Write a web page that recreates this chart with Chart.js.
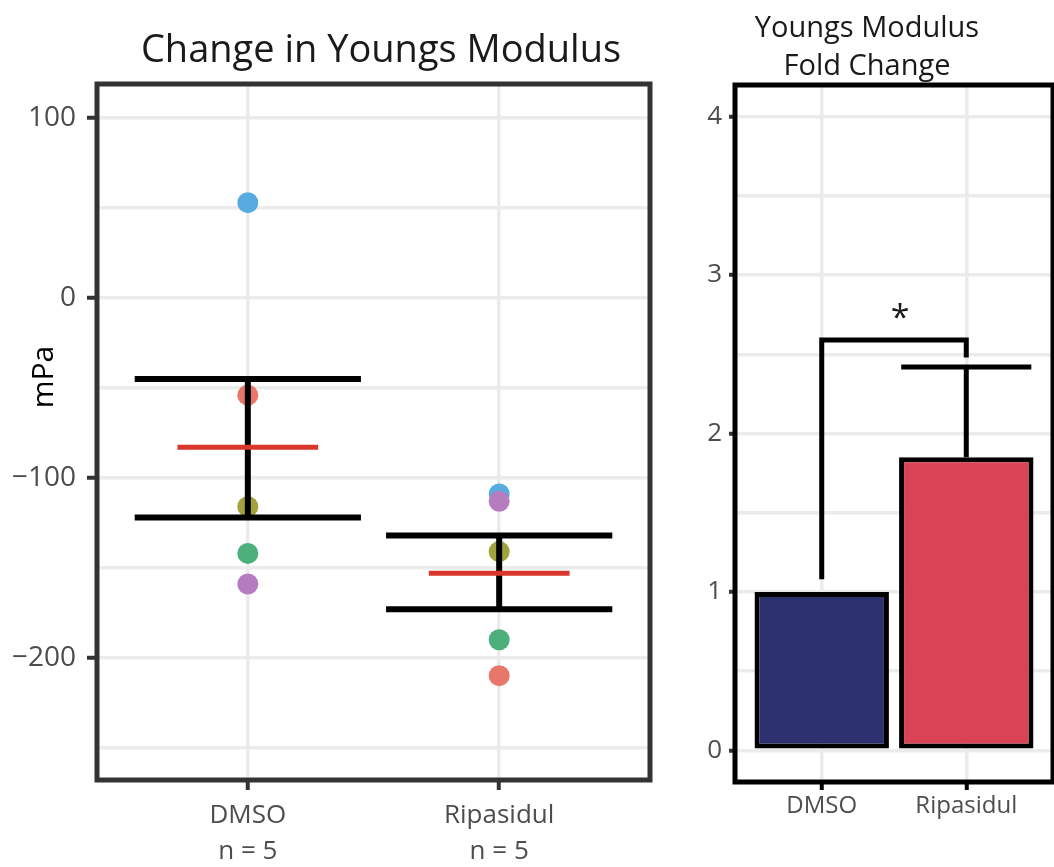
<!DOCTYPE html>
<html>
<head>
<meta charset="utf-8">
<script src="https://cdn.jsdelivr.net/npm/chart.js@4.4.1/dist/chart.umd.min.js"></script>
<style>
  html, body { margin: 0; padding: 0; background: #fff; }
  #wrap { position: relative; width: 1054px; height: 867px; overflow: hidden; }
  canvas { position: absolute; top: 0; }
</style>
</head>
<body>
<div id="wrap">
  <canvas id="change" width="690" height="867" style="left:0"></canvas>
  <canvas id="fold" width="364" height="867" style="left:690px"></canvas>
</div>
<script>
// values
const groups = ["DMSO", "Ripasidul"];
const groupN = ["n = 5", "n = 5"];
// one colour per replicate (same order in both groups)
const sampleColors = ["#e8776b", "#a3a23d", "#4daf7c", "#58abe0", "#b57dc0"];
const dmsoChange = [-54, -116, -142, 53, -159];
const ripasidulChange = [-210, -141, -190, -109, -113];
const changeMean = [-83, -153];
const changeSemLow = [-122, -173];
const changeSemHigh = [-45, -132];
const changeTicks = [-250, -200, -150, -100, -50, 0, 50, 100];

const foldMean = [1, 1.85];
const foldErrHigh = [null, 2.42];
const foldTicks = [0, 0.5, 1, 1.5, 2, 2.5, 3, 3.5, 4];
const barColors = ["#2d3170", "#d84455"];
const bracketTop = 2.59;
const bracketFeet = [1.08, 2.48];
const bracketLabel = "*";

const FONT = "'Open Sans', sans-serif";
const GRID = "#ebebeb";
const TICK_TEXT = "#4d4d4d";
const CAP_HALF = 0.45;   // whisker half width, x units
const MEAN_HALF = 0.28;  // mean line half width

const fmt = v => String(v).replace("-", "\u2212");

const changeOverlay = {
  id: "changeOverlay",
  afterDatasetsDraw(chart) {
    const { ctx, scales: { x, y } } = chart;
    ctx.save();
    groups.forEach((g, i) => {
      const cx = x.getPixelForValue(i + 1);
      const l = x.getPixelForValue(i + 1 - CAP_HALF);
      const r = x.getPixelForValue(i + 1 + CAP_HALF);
      const lo = y.getPixelForValue(changeSemLow[i]);
      const hi = y.getPixelForValue(changeSemHigh[i]);
      ctx.strokeStyle = "#000";
      ctx.lineWidth = 6;
      ctx.beginPath();
      ctx.moveTo(cx, lo); ctx.lineTo(cx, hi);
      ctx.moveTo(l, lo); ctx.lineTo(r, lo);
      ctx.moveTo(l, hi); ctx.lineTo(r, hi);
      ctx.stroke();
      const m = y.getPixelForValue(changeMean[i]);
      ctx.strokeStyle = "#d9372c";
      ctx.lineWidth = 5;
      ctx.beginPath();
      ctx.moveTo(x.getPixelForValue(i + 1 - MEAN_HALF), m);
      ctx.lineTo(x.getPixelForValue(i + 1 + MEAN_HALF), m);
      ctx.stroke();
    });
    ctx.restore();
  },
  afterDraw(chart) {
    const { ctx, chartArea: a } = chart;
    ctx.save();
    ctx.strokeStyle = "#333";
    ctx.lineWidth = 5;
    ctx.strokeRect(a.left, a.top, a.right - a.left, a.bottom - a.top);
    ctx.fillStyle = "#1a1a1a";
    ctx.textAlign = "center";
    ctx.textBaseline = "alphabetic";
    ctx.font = "38px " + FONT;
    ctx.fillText("Change in Youngs Modulus", 381, 62);
    ctx.fillStyle = "#000";
    ctx.font = "30px " + FONT;
    ctx.translate(53, 377);
    ctx.rotate(-Math.PI / 2);
    ctx.fillText("mPa", 0, 0);
    ctx.restore();
  }
};

new Chart(document.getElementById("change"), {
  type: "scatter",
  data: {
    datasets: [dmsoChange, ripasidulChange].map((vals, gi) => ({
      data: vals.map(v => ({ x: gi + 1, y: v })),
      backgroundColor: sampleColors,
      pointRadius: 10.5,
      pointHoverRadius: 10.5,
      borderWidth: 0
    }))
  },
  options: {
    responsive: false,
    animation: false,
    events: [],
    layout: { padding: { top: 84, right: 40, left: 0, bottom: 0 } },
    plugins: { legend: { display: false }, tooltip: { enabled: false } },
    scales: {
      x: {
        type: "linear", min: 0.4, max: 2.6, offset: false,
        afterBuildTicks: s => { s.ticks = groups.map((g, i) => ({ value: i + 1 })); },
        afterFit: s => { s.height = 87; },
        border: { display: false },
        grid: { color: GRID, lineWidth: 3.5, offset: false, tickLength: 10, tickWidth: 4, tickColor: "#333" },
        ticks: {
          autoSkip: false, maxRotation: 0, padding: 8, color: TICK_TEXT,
          font: { family: FONT, size: 26, lineHeight: 1.38 },
          callback: v => [groups[Math.round(v) - 1], groupN[Math.round(v) - 1]]
        }
      },
      y: {
        min: -268, max: 119,
        afterBuildTicks: s => { s.ticks = changeTicks.map(v => ({ value: v })); },
        afterFit: s => { s.width = 97; },
        border: { display: false },
        grid: {
          color: GRID, lineWidth: 3.5, tickLength: 10, tickWidth: 4,
          tickColor: c => (c.tick && c.tick.value % 100 === 0) ? "#333" : "rgba(0,0,0,0)"
        },
        ticks: {
          autoSkip: false, padding: 11, color: TICK_TEXT,
          font: { family: FONT, size: 28 },
          callback: v => v % 100 === 0 ? fmt(v) : ""
        }
      }
    }
  },
  plugins: [changeOverlay]
});

const foldOverlay = {
  id: "foldOverlay",
  afterDatasetsDraw(chart) {
    const { ctx, scales: { x, y } } = chart;
    ctx.save();
    ctx.strokeStyle = "#000";
    ctx.lineWidth = 5;
    foldErrHigh.forEach((hiVal, i) => {
      if (hiVal == null) return;
      const cx = x.getPixelForValue(i + 1);
      const hi = y.getPixelForValue(hiVal);
      ctx.beginPath();
      ctx.moveTo(cx, y.getPixelForValue(foldMean[i]));
      ctx.lineTo(cx, hi);
      ctx.moveTo(x.getPixelForValue(i + 1 - CAP_HALF), hi);
      ctx.lineTo(x.getPixelForValue(i + 1 + CAP_HALF), hi);
      ctx.stroke();
    });
    // significance bracket
    const x1 = x.getPixelForValue(1), x2 = x.getPixelForValue(2);
    const top = y.getPixelForValue(bracketTop);
    ctx.beginPath();
    ctx.moveTo(x1, y.getPixelForValue(bracketFeet[0]));
    ctx.lineTo(x1, top);
    ctx.lineTo(x2, top);
    ctx.lineTo(x2, y.getPixelForValue(bracketFeet[1]));
    ctx.stroke();
    ctx.fillStyle = "#1a1a1a";
    ctx.font = "34px " + FONT;
    ctx.textAlign = "center";
    ctx.textBaseline = "alphabetic";
    const mt = ctx.measureText(bracketLabel);
    const h = mt.actualBoundingBoxAscent - mt.actualBoundingBoxDescent;
    ctx.fillText(bracketLabel, (x1 + x2) / 2 + 6, top - 19 + h / 2 + mt.actualBoundingBoxDescent);
    ctx.restore();
  },
  afterDraw(chart) {
    const { ctx, chartArea: a } = chart;
    ctx.save();
    ctx.strokeStyle = "#000";
    ctx.lineWidth = 5;
    ctx.strokeRect(a.left, a.top, a.right - a.left, a.bottom - a.top);
    ctx.fillStyle = "#1a1a1a";
    ctx.textAlign = "center";
    ctx.font = "29px " + FONT;
    ctx.fillText("Youngs Modulus", 177, 37);
    ctx.fillText("Fold Change", 177, 75);
    ctx.restore();
  }
};

new Chart(document.getElementById("fold"), {
  type: "bar",
  data: {
    datasets: [{
      data: foldMean.map((v, i) => ({ x: i + 1, y: v })),
      backgroundColor: barColors,
      borderColor: "#000",
      borderWidth: 5,
      borderSkipped: false,
      categoryPercentage: 1,
      barPercentage: 0.93
    }]
  },
  options: {
    responsive: false,
    animation: false,
    events: [],
    layout: { padding: { top: 85, right: 1, left: 0, bottom: 0 } },
    plugins: { legend: { display: false }, tooltip: { enabled: false } },
    scales: {
      x: {
        type: "linear", min: 0.4, max: 2.6, offset: false,
        afterBuildTicks: s => { s.ticks = groups.map((g, i) => ({ value: i + 1 })); },
        afterFit: s => { s.height = 85; },
        border: { display: false },
        grid: { color: GRID, lineWidth: 3.5, offset: false, tickLength: 8, tickWidth: 4, tickColor: "#000" },
        ticks: {
          autoSkip: false, maxRotation: 0, padding: 2, color: TICK_TEXT,
          font: { family: FONT, size: 24 },
          callback: v => groups[Math.round(v) - 1]
        }
      },
      y: {
        min: -0.2, max: 4.2,
        afterBuildTicks: s => { s.ticks = foldTicks.map(v => ({ value: v })); },
        afterFit: s => { s.width = 45; },
        border: { display: false },
        grid: {
          color: GRID, lineWidth: 3.5, tickLength: 6, tickWidth: 4,
          tickColor: c => (c.tick && Number.isInteger(c.tick.value)) ? "#333" : "rgba(0,0,0,0)"
        },
        ticks: {
          autoSkip: false, padding: 7, color: TICK_TEXT,
          font: { family: FONT, size: 26 },
          callback: v => Number.isInteger(v) ? String(v) : ""
        }
      }
    }
  },
  plugins: [foldOverlay]
});
</script>
</body>
</html>
